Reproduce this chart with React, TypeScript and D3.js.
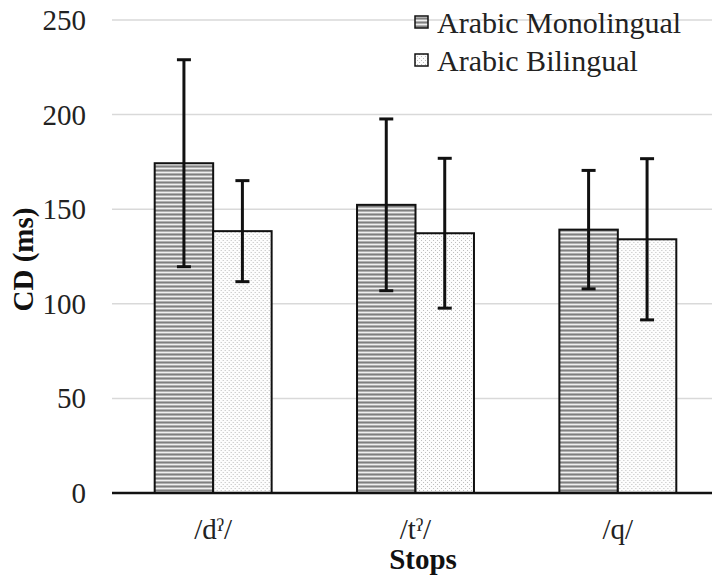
import React from "react";
import * as d3 from "d3";

const categories = ["/dˀ/", "/tˀ/", "/q/"];
const seriesNames = ["Arabic Monolingual", "Arabic Bilingual"];
const monoMeans = [174.3, 152.3, 139.2];
const monoSD = [54.7, 45.4, 31.3];
const biMeans = [138.4, 137.3, 134.1];
const biSD = [26.7, 39.6, 42.6];
const yTicks = [0, 50, 100, 150, 200, 250];

const W = 712, H = 577;
const margin = {left: 112, right: -7, top: 20, bottom: 84};
const font = "'Liberation Serif', 'Times New Roman', serif";

export default function App() {
  const x0 = d3.scaleBand().domain(categories)
    .range([margin.left, W - margin.right])
    .paddingInner(0.422).paddingOuter(0.211);
  const x1 = d3.scaleBand().domain(seriesNames).range([0, x0.bandwidth()]);
  const y = d3.scaleLinear().domain([0, 250]).range([H - margin.bottom, margin.top]);

  const rows = categories.map((c, i) => ({
    cat: c,
    vals: [
      {s: seriesNames[0], m: monoMeans[i], sd: monoSD[i], fill: "url(#stripes)"},
      {s: seriesNames[1], m: biMeans[i], sd: biSD[i], fill: "url(#dots)"},
    ],
  }));

  return (
    <svg width={W} height={H} style={{position: "absolute", left: 0, top: 0}} fontFamily={font}>
      <defs>
        <pattern id="stripes" width="4" height="4" patternUnits="userSpaceOnUse">
          <rect width="4" height="4" fill="#b0b0b0" />
          <rect y="0" width="4" height="1" fill="#f0f0f0" />
          <rect y="2" width="4" height="1" fill="#808080" />
        </pattern>
        <pattern id="dots" width="4" height="4" patternUnits="userSpaceOnUse">
          <rect width="4" height="4" fill="#fdfdfd" />
          <rect x="0" y="0" width="1" height="1" fill="#bdbdbd" />
          <rect x="2" y="2" width="1" height="1" fill="#bdbdbd" />
        </pattern>
      </defs>
      <rect width={W} height={H} fill="#fff" />

      {yTicks.filter(t => t > 0).map(t => (
        <line key={t} x1={margin.left} x2={W} y1={y(t)} y2={y(t)} stroke="#d9d9d9" strokeWidth={1.5} />
      ))}
      {yTicks.map(t => (
        <text key={"l" + t} x={86} y={y(t) + 10} textAnchor="end" fontSize={29} fill="#222">{t}</text>
      ))}

      {rows.map(r => (
        <g key={r.cat} transform={`translate(${x0(r.cat)},0)`}>
          {r.vals.map(v => (
            <rect key={v.s} x={x1(v.s)} y={y(v.m)} width={x1.bandwidth()} height={y(0) - y(v.m)}
              fill={v.fill} stroke="#111" strokeWidth={2} />
          ))}
        </g>
      ))}
      {rows.map(r => (
        <g key={"e" + r.cat} transform={`translate(${x0(r.cat)},0)`}>
          {r.vals.map(v => {
            const cx = (x1(v.s) as number) + x1.bandwidth() / 2;
            return (
              <g key={v.s} stroke="#111" strokeWidth={3}>
                <line x1={cx} x2={cx} y1={y(v.m + v.sd)} y2={y(v.m - v.sd)} />
                <line x1={cx - 7} x2={cx + 7} y1={y(v.m + v.sd)} y2={y(v.m + v.sd)} />
                <line x1={cx - 7} x2={cx + 7} y1={y(v.m - v.sd)} y2={y(v.m - v.sd)} />
              </g>
            );
          })}
        </g>
      ))}

      <line x1={margin.left} x2={W} y1={y(0)} y2={y(0)} stroke="#111" strokeWidth={2.5} />

      {categories.map(c => (
        <text key={c} x={(x0(c) as number) + x0.bandwidth() / 2} y={539} textAnchor="middle" fontSize={29} fill="#222">{c}</text>
      ))}
      <text x={423} y={569} textAnchor="middle" fontSize={29} fontWeight="bold" fill="#111">Stops</text>
      <text transform={`translate(33,${(y(0) + y(250)) / 2 + 3}) rotate(-90)`} textAnchor="middle" fontSize={29} fontWeight="bold" fill="#111">CD (ms)</text>

      {seriesNames.map((s, i) => (
        <g key={s} transform={`translate(415,${16 + i * 38})`}>
          <rect x={0} y={0} width={13} height={12} fill={i === 0 ? "url(#stripes)" : "url(#dots)"} stroke="#111" strokeWidth={1.5} />
          <text x={22} y={17} fontSize={30} fill="#222">{s}</text>
        </g>
      ))}
    </svg>
  );
}
